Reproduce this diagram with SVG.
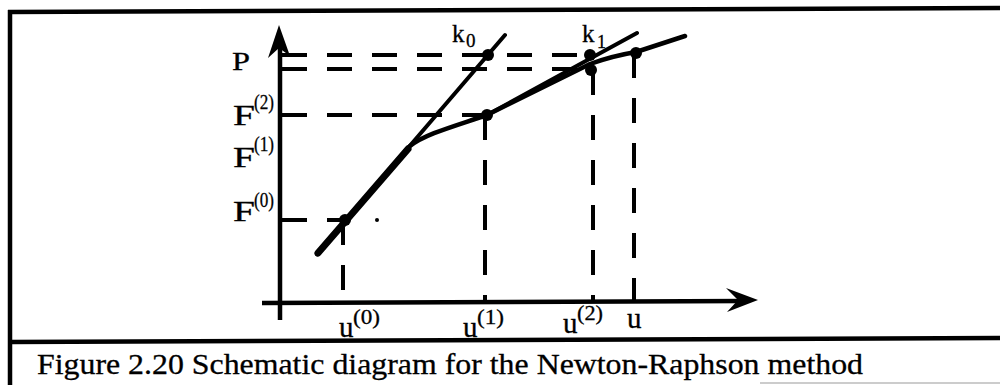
<svg xmlns="http://www.w3.org/2000/svg" width="1000" height="385" viewBox="0 0 1000 385">
<style>
.ln{stroke:#000;fill:none;stroke-linecap:round;stroke-linejoin:round}
.ax{stroke:#000;stroke-width:4.5;fill:none}
.dash{stroke:#000;stroke-width:4;fill:none;stroke-dasharray:25 20}
.dot{fill:#000}
.lbl{font-family:"Liberation Serif","Times New Roman",serif;fill:#000;stroke:#000;stroke-width:0.3}
</style>
<rect x="0" y="0" width="1000" height="385" fill="#fff"/>
<g id="frame">
<line x1="8" y1="12" x2="1000" y2="8" class="ax" stroke-width="4"/>
<line x1="10" y1="10" x2="10" y2="385" class="ax" stroke-width="4"/>
<line x1="10" y1="342" x2="1000" y2="338" class="ax" stroke-width="4"/>
<line x1="760" y1="383" x2="1000" y2="383" stroke="#bbb" stroke-width="1.5"/>
</g>
<g id="axes">
<line x1="280" y1="320" x2="280" y2="45" class="ax"/>
<polygon points="279,25 268,58 279,48 290,56" class="dot"/>
<line x1="262" y1="303" x2="745" y2="301" class="ax"/>
<polygon points="758,300 726,288 738,300 727,312" class="dot"/>
</g>
<g id="connectors">
<line x1="282" y1="55" x2="590" y2="55" class="dash"/>
<line x1="282" y1="69" x2="590" y2="69" class="dash"/>
<line x1="282" y1="115" x2="487" y2="115" class="dash"/>
<line x1="282" y1="220" x2="345" y2="220" class="dash"/>
<line x1="343" y1="220" x2="343" y2="302" class="dash"/>
<line x1="485" y1="115" x2="485" y2="302" class="dash"/>
<line x1="593" y1="70" x2="593" y2="302" class="dash"/>
<line x1="634" y1="53" x2="634" y2="302" class="dash"/>
</g>
<g id="curve">
<path d="M317,254 L410,146 C425,134 455,126 487,115 L590,64 Q612,56 636,52 L685,36" class="ln" stroke-width="4.5"/>
<line x1="318" y1="253" x2="408" y2="149" class="ln" stroke-width="7"/>
</g>
<g id="tangents">
<line x1="317" y1="254" x2="505" y2="35" class="ln" stroke-width="4"/>
<line x1="487" y1="115" x2="637" y2="33" class="ln" stroke-width="4"/>
</g>
<g id="points">
<circle cx="345" cy="220" r="6" class="dot"/>
<circle cx="377" cy="220" r="2" class="dot"/>
<circle cx="487" cy="115" r="6" class="dot"/>
<circle cx="488" cy="55" r="6" class="dot"/>
<circle cx="590" cy="55" r="6" class="dot"/>
<circle cx="591" cy="70" r="6" class="dot"/>
<circle cx="636" cy="53" r="6" class="dot"/>
</g>
<g id="labels" class="lbl">
<text x="232" y="70" font-size="26" textLength="18" lengthAdjust="spacingAndGlyphs">P</text>
<g id="lbl-F2"><text x="233" y="125" font-size="29" textLength="22" lengthAdjust="spacingAndGlyphs">F</text><text x="254" y="109" font-size="20" textLength="20" lengthAdjust="spacingAndGlyphs">(2)</text></g>
<g id="lbl-F1"><text x="233" y="167" font-size="29" textLength="22" lengthAdjust="spacingAndGlyphs">F</text><text x="254" y="151" font-size="20" textLength="20" lengthAdjust="spacingAndGlyphs">(1)</text></g>
<g id="lbl-F0"><text x="233" y="221" font-size="29" textLength="22" lengthAdjust="spacingAndGlyphs">F</text><text x="254" y="207" font-size="20" textLength="20" lengthAdjust="spacingAndGlyphs">(0)</text></g>
<g id="lbl-u0"><text x="339" y="337" font-size="29">u</text><text x="353" y="324" font-size="21" textLength="27" lengthAdjust="spacingAndGlyphs">(0)</text></g>
<g id="lbl-u1"><text x="463" y="337" font-size="29">u</text><text x="477" y="324" font-size="21" textLength="27" lengthAdjust="spacingAndGlyphs">(1)</text></g>
<g id="lbl-u2"><text x="563" y="333" font-size="29">u</text><text x="577" y="320" font-size="21" textLength="26" lengthAdjust="spacingAndGlyphs">(2)</text></g>
<text x="627" y="328" font-size="29">u</text>
<g id="lbl-k0"><text x="452" y="42" font-size="25">k</text><text x="466" y="47" font-size="19">0</text></g>
<g id="lbl-k1"><text x="582" y="42" font-size="25">k</text><text x="597" y="48" font-size="18">1</text></g>
<text x="37" y="374" font-size="30" textLength="826" lengthAdjust="spacingAndGlyphs">Figure 2.20 Schematic diagram for the Newton-Raphson method</text>
</g>
</svg>
